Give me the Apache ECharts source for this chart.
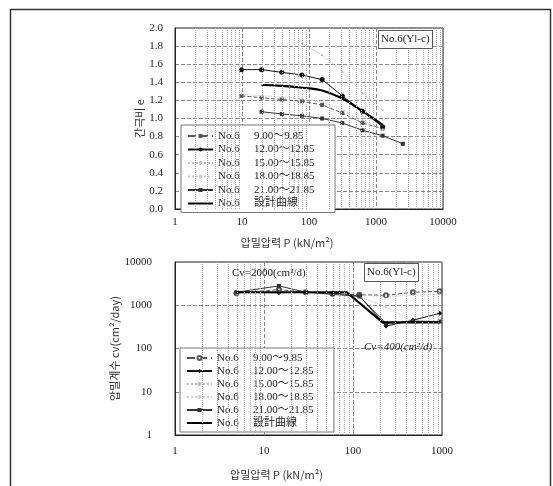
<!DOCTYPE html>
<html>
<head>
<meta charset="utf-8">
<script src="https://cdn.jsdelivr.net/npm/echarts@6/dist/echarts.min.js"></script>
<style>
html, body { margin: 0; padding: 0; background: #fff; }
#chart { width: 553px; height: 486px; }
</style>
</head>
<body>
<div id="chart"></div>
<script>
// e - log P (upper chart)
var pressE = [9.8, 19.6, 39.2, 78.5, 157, 314, 628, 1256, 2512];
var e900 = [1.25, 1.23, 1.21, 1.19, 1.15, 1.06, 0.95, 0.89, null];
var e1200 = [1.54, 1.54, 1.51, 1.48, 1.43, 1.25, 1.08, 0.91, null];
var e1500 = [null, null, null, 1.83, 1.70, 1.52, 1.28, 1.09, null];
var e1800 = [1.27, 1.25, 1.24, 1.22, 1.18, 1.10, 0.98, 0.88, null];
var e2100 = [null, 1.075, 1.05, 1.03, 1.00, 0.95, 0.87, 0.81, 0.72];
var eDesign = [null, 1.37, 1.36, 1.34, 1.31, 1.22, 1.08, 0.93, null];

// cv - log P (lower chart)
var pressCv = [4.9, 14.7, 29.4, 58.9, 118, 235, 471, 942];
var cv900 = [1900, 2300, 2000, 1850, 1750, 1700, 2000, 2100];
var cv1200 = [2000, 1950, 2000, 1900, 1650, 330, 450, 650];
var cv1500 = [2100, 2000, 1950, 1800, 1600, 900, 420, 400];
var cv1800 = [1800, 2000, 1900, 1750, 1700, 1600, 1700, 1800];
var cv2100 = [2000, 2800, 2000, 1800, 1600, 380, 430, 420];
var pressDesign = [4.9, 85, 215, 942];
var cvDesign = [2000, 2000, 400, 400];

var ranges = ['9.00～9.85', '12.00～12.85', '15.00～15.85', '18.00～18.85', '21.00～21.85', '設計曲線'];

var serif = '"Liberation Serif", "DejaVu Serif", "Noto Sans CJK KR", serif';
var kr = '"Noto Sans CJK KR", sans-serif';

function pairs(xs, ys) {
  var out = [];
  for (var i = 0; i < ys.length; i++) {
    if (ys[i] != null) out.push([xs[i], ys[i]]);
  }
  return out;
}

function minorValues(fromExp, toExp) {
  var out = [];
  for (var k = fromExp; k < toExp; k++) {
    for (var m = 2; m <= 9; m++) out.push(m * Math.pow(10, k));
  }
  return out;
}

var styles = [
  { color: '#555', type: 'dashed', width: 1, symbol: 'rect', size: 4 },
  { color: '#111', type: 'solid', width: 1, symbol: 'circle', size: 5 },
  { color: '#bbb', type: 'dotted', width: 1, symbol: 'circle', size: 2 },
  { color: '#ccc', type: 'dotted', width: 1, symbol: 'circle', size: 2 },
  { color: '#333', type: 'solid', width: 1, symbol: 'rect', size: 4 },
  { color: '#000', type: 'solid', width: 2.2, symbol: 'none', size: 0 }
];

function makeSeries(prefix, idx, data, gi, smooth, symbolOverride) {
  var st = styles[idx];
  return {
    name: prefix + '|' + ranges[idx],
    type: 'line',
    xAxisIndex: gi,
    yAxisIndex: gi,
    data: data,
    smooth: smooth,
    symbol: symbolOverride || st.symbol,
    symbolSize: st.size,
    showSymbol: st.symbol !== 'none',
    color: st.color,
    lineStyle: { color: st.color, width: st.width, type: st.type },
    itemStyle: { color: st.color },
    animation: false,
    z: idx === 5 ? 4 : 3
  };
}

function minorSeries(gi, xs) {
  return {
    type: 'line',
    xAxisIndex: gi,
    yAxisIndex: gi,
    data: [],
    silent: true,
    animation: false,
    markLine: {
      silent: true,
      animation: false,
      symbol: ['none', 'none'],
      label: { show: false },
      lineStyle: { type: 'dotted', color: '#aaa', width: 1 },
      data: xs.map(function (v) { return { xAxis: v }; })
    }
  };
}

function legendData(prefix) {
  return ranges.map(function (r, i) {
    var item = { name: prefix + '|' + r };
    if (i === 5) item.itemStyle = { opacity: 0 };
    return item;
  });
}

var legendFmt = function (name) {
  return '{a|No.6}{b|' + name.split('|')[1] + '}';
};
var legendRich = {
  a: { fontFamily: serif, fontSize: 11, color: '#222', width: 36 },
  b: { fontFamily: serif, fontSize: 11, color: '#222', width: 75 }
};
var plainNum = function (v) { return String(Math.round(v)); };

var chart = echarts.init(document.getElementById('chart'));
chart.setOption({
  backgroundColor: '#fff',
  animation: false,
  title: [
    {
      text: 'No.6(Yl-c)', left: 378, top: 30, padding: [4, 3],
      borderWidth: 1, borderColor: '#555', backgroundColor: '#fff',
      textStyle: { fontFamily: serif, fontSize: 11, fontWeight: 'normal', color: '#222' }
    },
    {
      text: 'No.6(Yl-c)', left: 364, top: 263, padding: [4, 3],
      borderWidth: 1, borderColor: '#555', backgroundColor: '#fff',
      textStyle: { fontFamily: serif, fontSize: 11, fontWeight: 'normal', color: '#222' }
    }
  ],
  legend: [
    {
      data: legendData('e'),
      orient: 'vertical', left: 181, top: 125,
      padding: [5, 6, 3, 6], itemGap: 1.5, itemWidth: 25, itemHeight: 5, itemTextGap: 4,
      backgroundColor: '#fff', borderColor: '#777', borderWidth: 1,
      formatter: legendFmt,
      textStyle: { lineHeight: 12, rich: legendRich },
      selectedMode: false
    },
    {
      data: legendData('cv'),
      orient: 'vertical', left: 180, top: 348,
      padding: [4, 6, 3, 6], itemGap: 1, itemWidth: 25, itemHeight: 5, itemTextGap: 4,
      backgroundColor: '#fff', borderColor: '#777', borderWidth: 1,
      formatter: legendFmt,
      textStyle: { lineHeight: 12, rich: legendRich },
      selectedMode: false
    }
  ],
  grid: [
    { left: 175, top: 28, width: 268, height: 181, show: true, borderColor: '#222', borderWidth: 1 },
    { left: 175, top: 262, width: 267, height: 173, show: true, borderColor: '#222', borderWidth: 1 }
  ],
  xAxis: [
    {
      type: 'log', logBase: 10, min: 1, max: 10000, gridIndex: 0,
      axisLine: { show: true, lineStyle: { color: '#222' } },
      axisTick: { show: false },
      axisLabel: { margin: 8, fontFamily: serif, fontSize: 11, color: '#222', formatter: plainNum },
      splitLine: { show: true, lineStyle: { type: 'dashed', color: '#888' } },
      name: '압밀압력 P (kN/m²)', nameLocation: 'middle', nameGap: 28,
      nameTextStyle: { fontFamily: kr, fontSize: 11, color: '#333', padding: [0, 44, 0, 0] }
    },
    {
      type: 'log', logBase: 10, min: 1, max: 1000, gridIndex: 1,
      axisLine: { show: true, lineStyle: { color: '#222' } },
      axisTick: { show: false },
      axisLabel: { margin: 11, fontFamily: serif, fontSize: 11, color: '#222', formatter: plainNum },
      splitLine: { show: true, lineStyle: { type: 'dashed', color: '#888' } },
      name: '압밀압력 P (kN/m²)', nameLocation: 'middle', nameGap: 34,
      nameTextStyle: { fontFamily: kr, fontSize: 11, color: '#333', padding: [0, 64, 0, 0] }
    }
  ],
  yAxis: [
    {
      type: 'value', min: 0, max: 2.0, interval: 0.2, gridIndex: 0,
      axisLine: { show: true, lineStyle: { color: '#222' } },
      axisTick: { show: false },
      axisLabel: {
        margin: 12, fontFamily: serif, fontSize: 11, color: '#222',
        formatter: function (v) { return v.toFixed(1); }
      },
      splitLine: { show: true, lineStyle: { type: 'dashed', color: '#888' } },
      name: '간극비 e', nameLocation: 'middle', nameGap: 27,
      nameTextStyle: { fontFamily: kr, fontSize: 11, color: '#333' }
    },
    {
      type: 'log', logBase: 10, min: 1, max: 10000, gridIndex: 1,
      axisLine: { show: true, lineStyle: { color: '#222' } },
      axisTick: { show: false },
      axisLabel: { margin: 23, fontFamily: serif, fontSize: 11, color: '#222', formatter: plainNum },
      splitLine: { show: true, lineStyle: { type: 'dashed', color: '#888' } },
      name: '압밀계수 cv(cm²/day)', nameLocation: 'middle', nameGap: 52,
      nameTextStyle: { fontFamily: kr, fontSize: 11, color: '#333' }
    }
  ],
  graphic: [
    {
      type: 'rect', left: 8, top: 7, silent: true,
      shape: { width: 540, height: 500 },
      style: { fill: 'none', stroke: '#333', lineWidth: 1.5 }
    },
    {
      type: 'text', left: 232, top: 268, z: 100,
      style: { text: 'Cv=2000(cm²/d)', fontFamily: serif, fontSize: 11, fill: '#222' }
    },
    {
      type: 'text', left: 364, top: 342, z: 100,
      style: { text: 'Cv=400(cm²/d)', fontFamily: serif, fontSize: 11, fontStyle: 'italic', fill: '#222' }
    }
  ],
  series: [
    minorSeries(0, minorValues(0, 4)),
    minorSeries(1, minorValues(0, 3)),
    makeSeries('e', 0, pairs(pressE, e900), 0, false),
    makeSeries('e', 1, pairs(pressE, e1200), 0, false),
    makeSeries('e', 2, pairs(pressE, e1500), 0, false),
    makeSeries('e', 3, pairs(pressE, e1800), 0, false),
    makeSeries('e', 4, pairs(pressE, e2100), 0, false),
    makeSeries('e', 5, pairs(pressE, eDesign), 0, true),
    makeSeries('cv', 0, pairs(pressCv, cv900), 1, false, 'emptyCircle'),
    makeSeries('cv', 1, pairs(pressCv, cv1200), 1, false, 'diamond'),
    makeSeries('cv', 2, pairs(pressCv, cv1500), 1, false),
    makeSeries('cv', 3, pairs(pressCv, cv1800), 1, false),
    makeSeries('cv', 4, pairs(pressCv, cv2100), 1, false),
    makeSeries('cv', 5, pairs(pressDesign, cvDesign), 1, false)
  ]
});
</script>
</body>
</html>
